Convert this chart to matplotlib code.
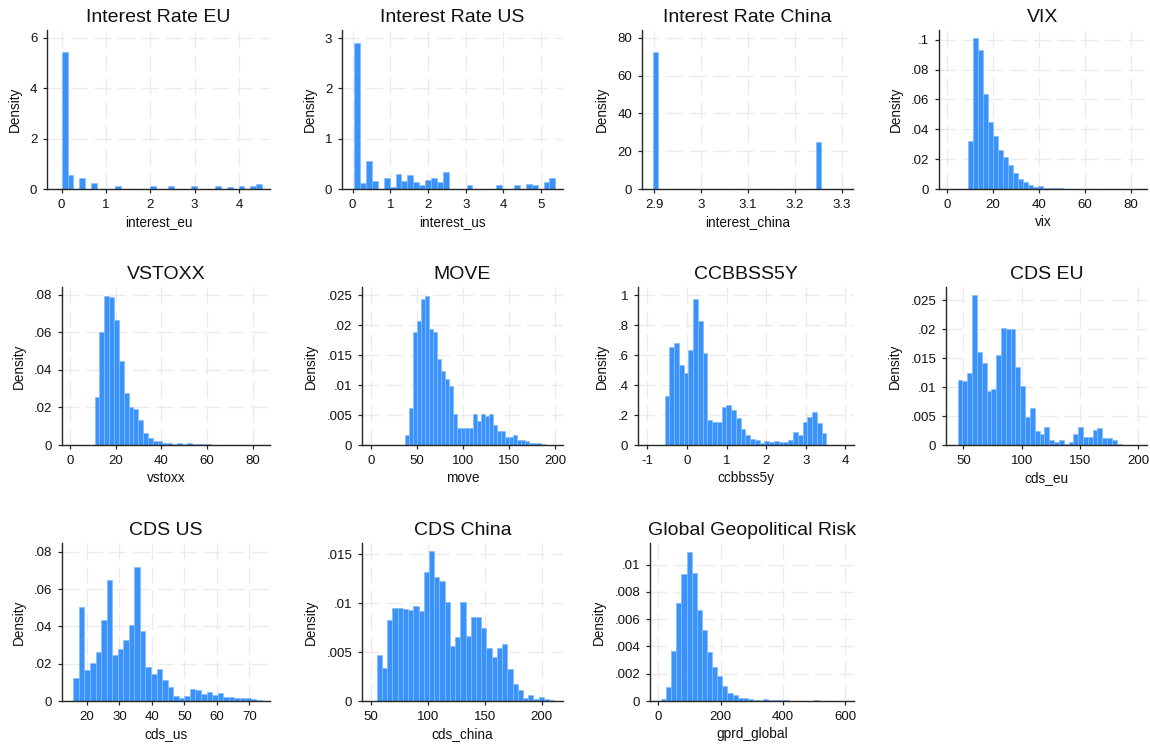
import numpy as np
import matplotlib
matplotlib.use("Agg")
import matplotlib.pyplot as plt
from matplotlib.ticker import FuncFormatter

plt.rcParams['font.family'] = ['Liberation Sans', 'DejaVu Sans']

# ---- data: density per bin (bin start, bin width, heights)
eu_start, eu_width = 0.0, 0.133
eu_density = [5.42, 0.54, 0, 0.45, 0, 0.22, 0, 0, 0, 0.10, 0, 0, 0, 0, 0, 0.10, 0,
              0, 0.10, 0, 0, 0, 0.10, 0, 0, 0, 0.10, 0, 0.08, 0, 0.10, 0, 0.10, 0.18]

us_start, us_width = 0.04, 0.157
us_density = [2.90, 0.11, 0.55, 0.15, 0, 0.21, 0.03, 0.29, 0.15, 0.27, 0.13, 0.07,
              0.17, 0.21, 0.13, 0.33, 0, 0, 0, 0.07, 0, 0, 0, 0, 0.07, 0, 0, 0.08,
              0, 0.09, 0.07, 0, 0.13, 0.22]

cn_start, cn_width = 2.8985, 0.0105
cn_density = [72.7] + [0] * 32 + [24.8]

vix_start, vix_width = 9.14, 2.163
vix_density = [0.032, 0.101, 0.093, 0.0636, 0.045, 0.0355, 0.0258, 0.0213, 0.016,
               0.0106, 0.0065, 0.0045, 0.0025, 0.0011, 0.0018, 0.0010, 0.0006, 0.0004,
               0.0004, 0.0003, 0.0002, 0.0002, 0.0002, 0.0001, 0.0002, 0.0001, 0.0001,
               0, 0.0001, 0, 0.0001, 0.0001, 0, 0.0001]

vstoxx_start, vstoxx_width = 10.66, 2.126
vstoxx_density = [0.0255, 0.060, 0.079, 0.0786, 0.0662, 0.0446, 0.0278, 0.020, 0.019,
                  0.0133, 0.0065, 0.0037, 0.0023, 0.0023, 0.0010, 0.0010, 0.0005, 0.0009,
                  0.0005, 0.0009, 0.0004, 0.0004, 0.0003, 0.0003, 0.0002, 0.0002, 0.0002,
                  0.0001, 0.0002, 0.0001, 0.0001, 0.0001, 0.0001, 0, 0.0001]

move_start, move_width = 36.6, 4.35
move_density = [0.0017, 0.0062, 0.0188, 0.0208, 0.0244, 0.0249, 0.0193, 0.0188, 0.0143,
                0.0123, 0.0111, 0.0098, 0.0051, 0.0028, 0.0028, 0.0028, 0.0028, 0.0052,
                0.0040, 0.0052, 0.0048, 0.0052, 0.0033, 0.0023, 0.0023, 0.0013, 0.0013,
                0.0017, 0.0008, 0.0008, 0.0006, 0.0004, 0.0003, 0.0003, 0.0002]

ccb_start, ccb_width = -0.57, 0.1203
ccb_density = [0.327, 0.653, 0.684, 0.533, 0.478, 0.633, 0.978, 0.827, 0.613, 0.167,
               0.151, 0.151, 0.251, 0.267, 0.231, 0.178, 0.107, 0.067, 0.040, 0.033,
               0.011, 0.027, 0.018, 0.027, 0.018, 0.018, 0.033, 0.084, 0.067, 0.151,
               0.189, 0.218, 0.144, 0.078]

cdseu_start, cdseu_width = 45.1, 4.14
cdseu_density = [0.0113, 0.0111, 0.0124, 0.0260, 0.0160, 0.0141, 0.0094, 0.0096, 0.0155,
                 0.0202, 0.0200, 0.0200, 0.0134, 0.0102, 0.0048, 0.0064, 0.0024, 0.0019,
                 0.0031, 0.0008, 0.0005, 0.0008, 0.0002, 0.0005, 0.0019, 0.0031, 0.0014,
                 0.0014, 0.0026, 0.0030, 0.0012, 0.0012, 0.0009, 0.0002]

cdsus_start, cdsus_width = 15.8, 1.71
cdsus_density = [0.0125, 0.0507, 0.0166, 0.0205, 0.0263, 0.0437, 0.0648, 0.0248, 0.0277,
                 0.0330, 0.0407, 0.0720, 0.0377, 0.0182, 0.0145, 0.0173, 0.0113, 0.0075,
                 0.0029, 0.0018, 0.0027, 0.0064, 0.0059, 0.0038, 0.0048, 0.0032, 0.0045,
                 0.0023, 0.0023, 0.0016, 0.0016, 0.0016, 0.0009, 0.0005]

cdscn_start, cdscn_width = 55.3, 4.58
cdscn_density = [0.0047, 0.0034, 0.0083, 0.0095, 0.0095, 0.0094, 0.0093, 0.0097, 0.0092,
                 0.0132, 0.0153, 0.0127, 0.0123, 0.0101, 0.0056, 0.0065, 0.0101, 0.0066,
                 0.0086, 0.0086, 0.0075, 0.0054, 0.0045, 0.0054, 0.0058, 0.0033, 0.0017,
                 0.0011, 0.0003, 0.0006, 0.0002, 0.0004, 0.0002, 0.0001]

gprd_start, gprd_width = 8.6, 16.4
gprd_density = [0.00012, 0.00105, 0.00366, 0.0072, 0.0093, 0.01095, 0.0094, 0.0067, 0.0052,
                0.0036, 0.0025, 0.0018, 0.0011, 0.0006, 0.00044, 0.00022, 0.00022, 0.00015,
                0.00005, 0.00005, 0.00012, 0.00007, 0.00005, 0.00005, 0.00007, 0, 0.00002,
                0, 0, 0, 0.00007, 0, 0.00002, 0]

titles = ["Interest Rate EU", "Interest Rate US", "Interest Rate China", "VIX",
          "VSTOXX", "MOVE", "CCBBSS5Y", "CDS EU",
          "CDS US", "CDS China", "Global Geopolitical Risk"]
varnames = ["interest_eu", "interest_us", "interest_china", "vix",
            "vstoxx", "move", "ccbbss5y", "cds_eu",
            "cds_us", "cds_china", "gprd_global"]

xticks = [[0, 1, 2, 3, 4], [0, 1, 2, 3, 4, 5], [2.9, 3.0, 3.1, 3.2, 3.3], [0, 20, 40, 60, 80],
          [0, 20, 40, 60, 80], [0, 50, 100, 150, 200], [-1, 0, 1, 2, 3, 4], [50, 100, 150, 200],
          [20, 30, 40, 50, 60, 70], [50, 100, 150, 200], [0, 200, 400, 600]]
yticks = [[0, 2, 4, 6], [0, 1, 2, 3], [0, 20, 40, 60, 80], [0, .02, .04, .06, .08, .1],
          [0, .02, .04, .06, .08], [0, .005, .01, .015, .02, .025], [0, .2, .4, .6, .8, 1],
          [0, .005, .01, .015, .02, .025],
          [0, .02, .04, .06, .08], [0, .005, .01, .015], [0, .002, .004, .006, .008, .01]]

series = [(eu_start, eu_width, eu_density), (us_start, us_width, us_density),
          (cn_start, cn_width, cn_density), (vix_start, vix_width, vix_density),
          (vstoxx_start, vstoxx_width, vstoxx_density), (move_start, move_width, move_density),
          (ccb_start, ccb_width, ccb_density), (cdseu_start, cdseu_width, cdseu_density),
          (cdsus_start, cdsus_width, cdsus_density), (cdscn_start, cdscn_width, cdscn_density),
          (gprd_start, gprd_width, gprd_density)]

# ---- layout (pixels, top-left origin): left, right, top, bottom of each plot region
rows = [(30, 189), (287, 445), (543, 701)]
cols = [[(47, 270), (342, 563), (642, 853), (939, 1147)],
        [(62, 270), (362, 563), (638, 854), (946, 1147)],
        [(62, 270), (362, 563), (650, 854)]]
xlims = [(-0.33, 4.70), (-0.28, 5.58), (2.874, 3.324), (-3.6, 87),
         (-3.65, 87.6), (-9.8, 208.7), (-1.24, 4.22), (35.1, 207.7),
         (12.3, 76.4), (42.4, 218.6), (-26.7, 627.7)]
ylims = [6.30, 3.16, 84.2, 0.1065, 0.084, 0.0264, 1.056, 0.0273, 0.0848, 0.01616, 0.01159]

W, H = 1150, 748
bar_color = '#3a92fb'
edge_color = '#86bbf8'
axis_color = '#262626'


def stata_fmt(v, pos):
    s = f"{v:g}"
    if s.startswith("0."):
        s = s[1:]
    elif s.startswith("-0."):
        s = "-" + s[2:]
    return s


fig = plt.figure(figsize=(W / 100, H / 100), dpi=100)

i = 0
for r, (top, bottom) in enumerate(rows):
    for (left, right) in cols[r]:
        ax = fig.add_axes([left / W, 1 - bottom / H, (right - left) / W, (bottom - top) / H])
        start, width, dens = series[i]
        edges = start + width * np.arange(len(dens) + 1)
        ax.bar(edges[:-1], dens, width=width, align='edge',
               color=bar_color, edgecolor=edge_color, linewidth=0.5, zorder=2)

        ax.set_xlim(*xlims[i])
        ax.set_ylim(0, ylims[i])
        ax.set_xticks(xticks[i])
        ax.set_yticks(yticks[i])
        ax.xaxis.set_major_formatter(FuncFormatter(stata_fmt))
        ax.yaxis.set_major_formatter(FuncFormatter(stata_fmt))

        ax.set_axisbelow(True)
        ax.grid(True, color='#ebebeb', linewidth=1.0, linestyle=(0, (12, 5)))
        for side in ['top', 'right']:
            ax.spines[side].set_visible(False)
        for side in ['left', 'bottom']:
            ax.spines[side].set_color(axis_color)
            ax.spines[side].set_linewidth(1.0)
        ax.tick_params(direction='out', length=3, width=0.9, color=axis_color,
                       labelsize=9.5, labelcolor='#111111', pad=4)

        ax.set_title(titles[i], fontsize=14, pad=6, color='#111111')
        ax.set_xlabel(varnames[i], fontsize=9.8, labelpad=3, color='#111111')
        ax.set_ylabel("Density", fontsize=9.8, labelpad=6, color='#111111')
        i += 1

fig.savefig("out.png", dpi=100)
